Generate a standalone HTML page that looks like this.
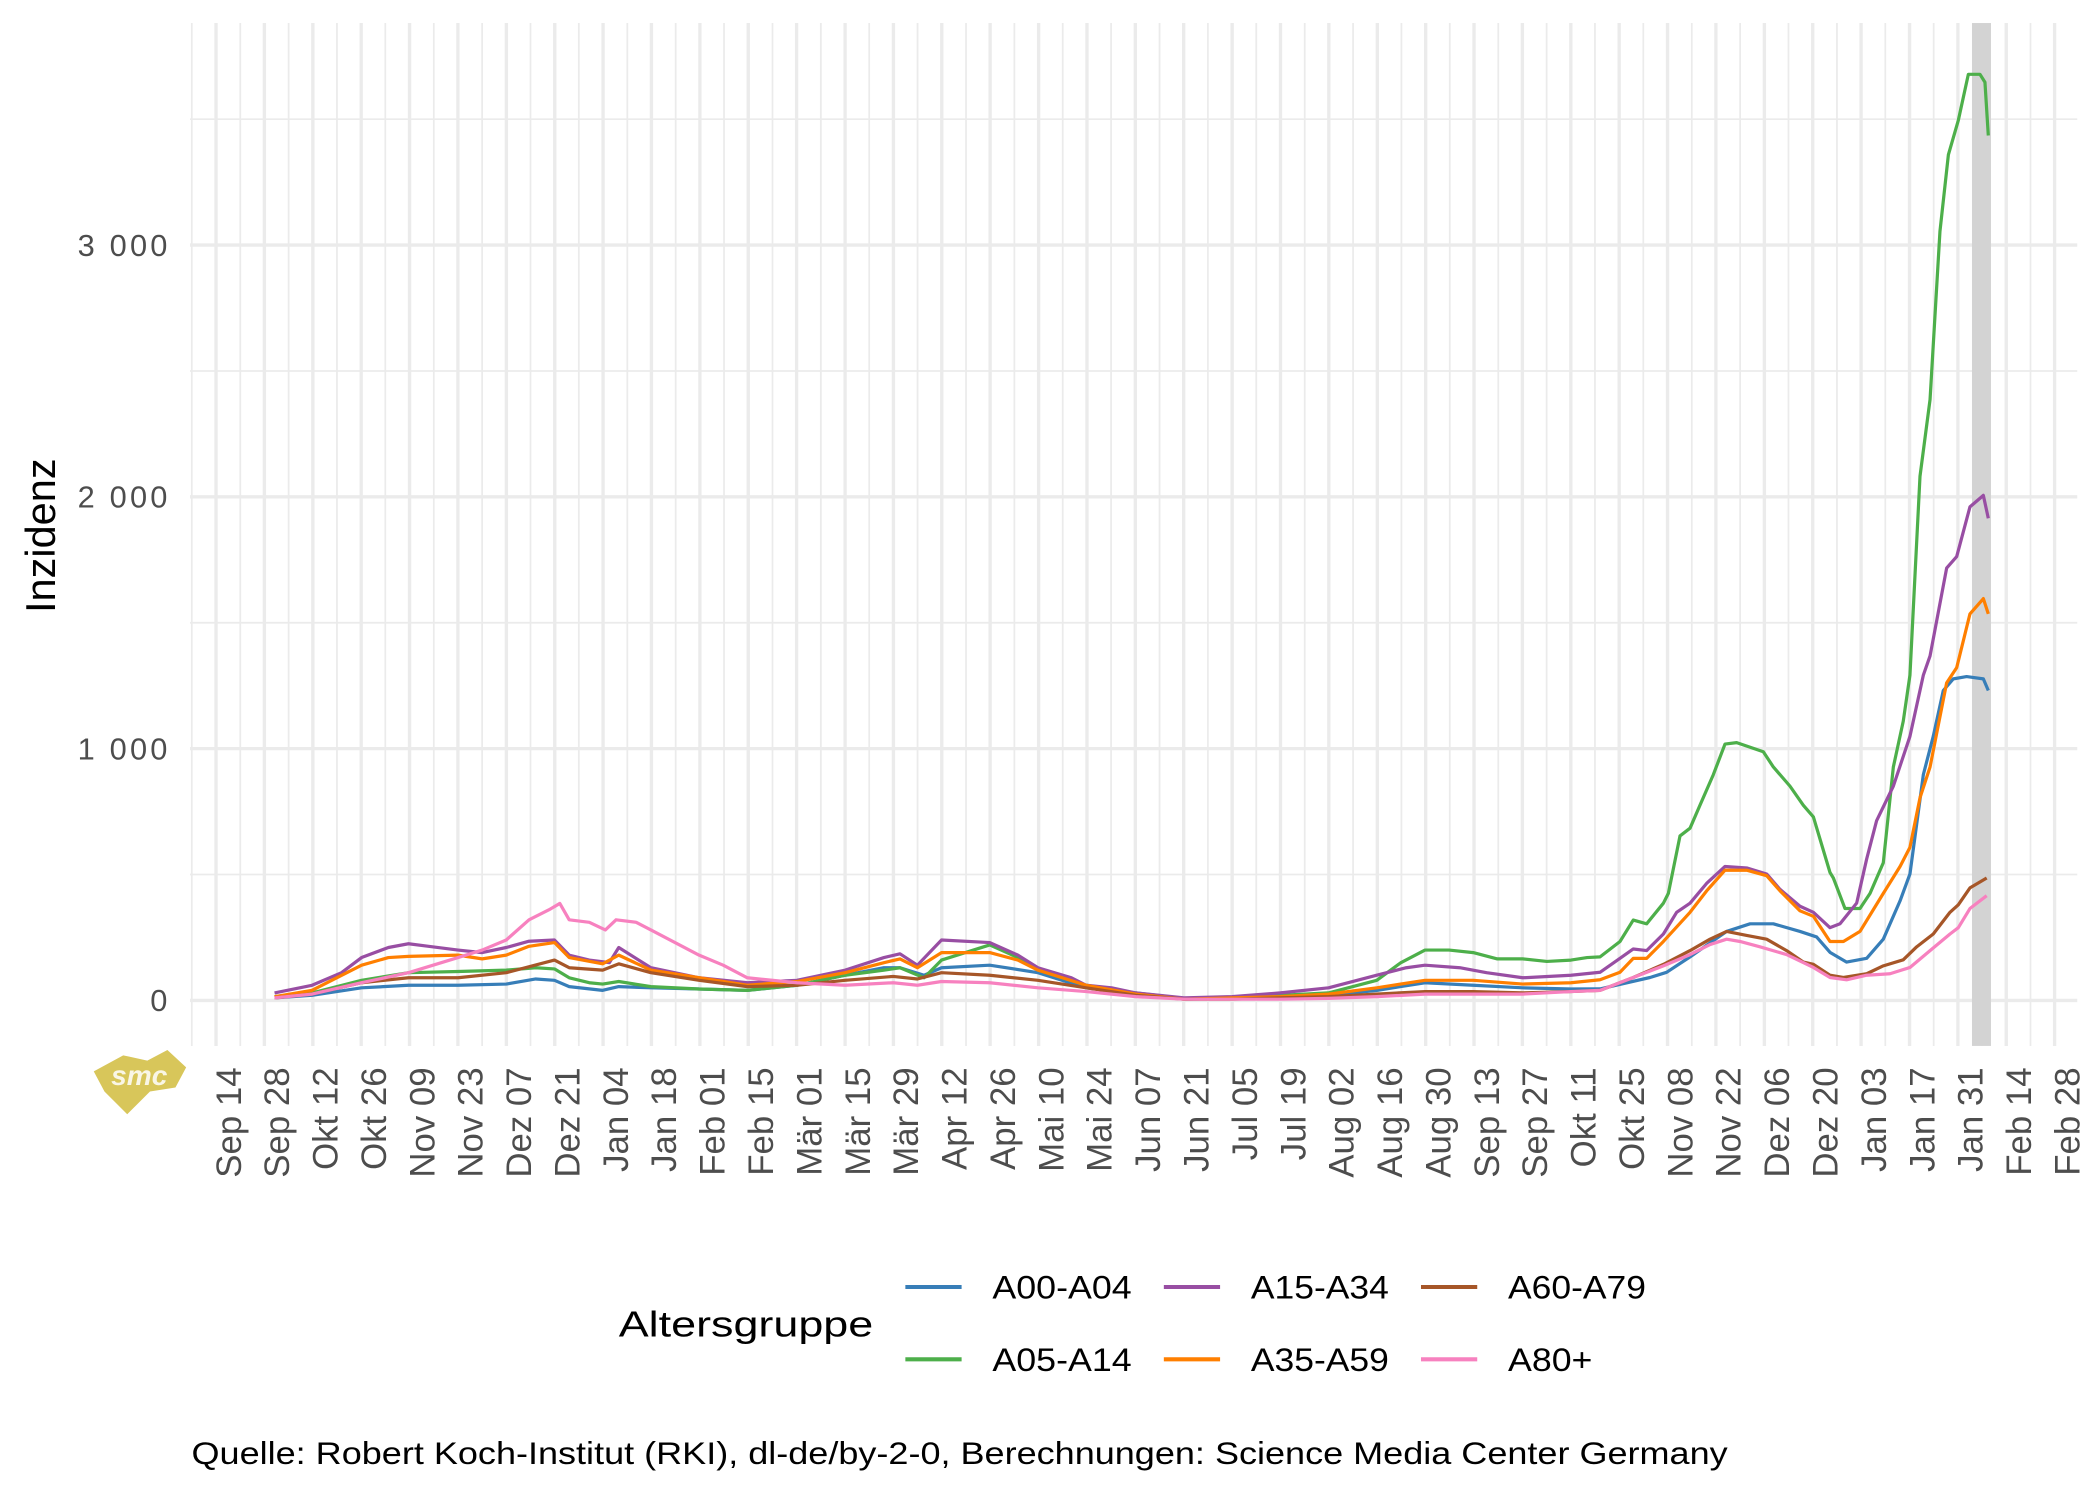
<!DOCTYPE html>
<html><head><meta charset="utf-8"><style>html,body{margin:0;padding:0;background:#fff}svg{display:block}</style></head>
<body>
<svg width="2100" height="1499" viewBox="0 0 1568 1119.3" preserveAspectRatio="none" xmlns="http://www.w3.org/2000/svg" font-family="'Liberation Sans', Arial, sans-serif">
<rect x="0" y="0" width="1568" height="1119.3" fill="#fff"/>
<g stroke="#ebebeb" stroke-width="1.3">
<line x1="141.9" x2="1551" y1="653" y2="653"/><line x1="141.9" x2="1551" y1="465" y2="465"/><line x1="141.9" x2="1551" y1="277" y2="277"/><line x1="141.9" x2="1551" y1="89" y2="89"/>
<line x1="143.2" x2="143.2" y1="17.2" y2="781"/><line x1="179.4" x2="179.4" y1="17.2" y2="781"/><line x1="215.5" x2="215.5" y1="17.2" y2="781"/><line x1="251.6" x2="251.6" y1="17.2" y2="781"/><line x1="287.7" x2="287.7" y1="17.2" y2="781"/><line x1="323.9" x2="323.9" y1="17.2" y2="781"/><line x1="360" x2="360" y1="17.2" y2="781"/><line x1="396.1" x2="396.1" y1="17.2" y2="781"/><line x1="432.2" x2="432.2" y1="17.2" y2="781"/><line x1="468.4" x2="468.4" y1="17.2" y2="781"/><line x1="504.5" x2="504.5" y1="17.2" y2="781"/><line x1="540.6" x2="540.6" y1="17.2" y2="781"/><line x1="576.8" x2="576.8" y1="17.2" y2="781"/><line x1="612.9" x2="612.9" y1="17.2" y2="781"/><line x1="649" x2="649" y1="17.2" y2="781"/><line x1="685.1" x2="685.1" y1="17.2" y2="781"/><line x1="721.3" x2="721.3" y1="17.2" y2="781"/><line x1="757.4" x2="757.4" y1="17.2" y2="781"/><line x1="793.5" x2="793.5" y1="17.2" y2="781"/><line x1="829.6" x2="829.6" y1="17.2" y2="781"/><line x1="865.8" x2="865.8" y1="17.2" y2="781"/><line x1="901.9" x2="901.9" y1="17.2" y2="781"/><line x1="938" x2="938" y1="17.2" y2="781"/><line x1="974.2" x2="974.2" y1="17.2" y2="781"/><line x1="1010.3" x2="1010.3" y1="17.2" y2="781"/><line x1="1046.4" x2="1046.4" y1="17.2" y2="781"/><line x1="1082.5" x2="1082.5" y1="17.2" y2="781"/><line x1="1118.7" x2="1118.7" y1="17.2" y2="781"/><line x1="1154.8" x2="1154.8" y1="17.2" y2="781"/><line x1="1190.9" x2="1190.9" y1="17.2" y2="781"/><line x1="1227" x2="1227" y1="17.2" y2="781"/><line x1="1263.2" x2="1263.2" y1="17.2" y2="781"/><line x1="1299.3" x2="1299.3" y1="17.2" y2="781"/><line x1="1335.4" x2="1335.4" y1="17.2" y2="781"/><line x1="1371.6" x2="1371.6" y1="17.2" y2="781"/><line x1="1407.7" x2="1407.7" y1="17.2" y2="781"/><line x1="1443.8" x2="1443.8" y1="17.2" y2="781"/><line x1="1479.9" x2="1479.9" y1="17.2" y2="781"/><line x1="1516.1" x2="1516.1" y1="17.2" y2="781"/>
</g>
<g stroke="#ebebeb" stroke-width="2.5">
<line x1="141.9" x2="1551" y1="747" y2="747"/><line x1="141.9" x2="1551" y1="559" y2="559"/><line x1="141.9" x2="1551" y1="371" y2="371"/><line x1="141.9" x2="1551" y1="183" y2="183"/>
<line x1="161.3" x2="161.3" y1="17.2" y2="781"/><line x1="197.4" x2="197.4" y1="17.2" y2="781"/><line x1="233.6" x2="233.6" y1="17.2" y2="781"/><line x1="269.7" x2="269.7" y1="17.2" y2="781"/><line x1="305.8" x2="305.8" y1="17.2" y2="781"/><line x1="341.9" x2="341.9" y1="17.2" y2="781"/><line x1="378.1" x2="378.1" y1="17.2" y2="781"/><line x1="414.2" x2="414.2" y1="17.2" y2="781"/><line x1="450.3" x2="450.3" y1="17.2" y2="781"/><line x1="486.4" x2="486.4" y1="17.2" y2="781"/><line x1="522.6" x2="522.6" y1="17.2" y2="781"/><line x1="558.7" x2="558.7" y1="17.2" y2="781"/><line x1="594.8" x2="594.8" y1="17.2" y2="781"/><line x1="631" x2="631" y1="17.2" y2="781"/><line x1="667.1" x2="667.1" y1="17.2" y2="781"/><line x1="703.2" x2="703.2" y1="17.2" y2="781"/><line x1="739.3" x2="739.3" y1="17.2" y2="781"/><line x1="775.5" x2="775.5" y1="17.2" y2="781"/><line x1="811.6" x2="811.6" y1="17.2" y2="781"/><line x1="847.7" x2="847.7" y1="17.2" y2="781"/><line x1="883.8" x2="883.8" y1="17.2" y2="781"/><line x1="920" x2="920" y1="17.2" y2="781"/><line x1="956.1" x2="956.1" y1="17.2" y2="781"/><line x1="992.2" x2="992.2" y1="17.2" y2="781"/><line x1="1028.4" x2="1028.4" y1="17.2" y2="781"/><line x1="1064.5" x2="1064.5" y1="17.2" y2="781"/><line x1="1100.6" x2="1100.6" y1="17.2" y2="781"/><line x1="1136.7" x2="1136.7" y1="17.2" y2="781"/><line x1="1172.9" x2="1172.9" y1="17.2" y2="781"/><line x1="1209" x2="1209" y1="17.2" y2="781"/><line x1="1245.1" x2="1245.1" y1="17.2" y2="781"/><line x1="1281.2" x2="1281.2" y1="17.2" y2="781"/><line x1="1317.4" x2="1317.4" y1="17.2" y2="781"/><line x1="1353.5" x2="1353.5" y1="17.2" y2="781"/><line x1="1389.6" x2="1389.6" y1="17.2" y2="781"/><line x1="1425.8" x2="1425.8" y1="17.2" y2="781"/><line x1="1461.9" x2="1461.9" y1="17.2" y2="781"/><line x1="1498" x2="1498" y1="17.2" y2="781"/><line x1="1534.1" x2="1534.1" y1="17.2" y2="781"/>
</g>
<rect x="1472.4" y="17.2" width="14.2" height="763.8" fill="#d3d3d3"/>
<g fill="none" stroke-width="2.4" stroke-linejoin="round" stroke-linecap="butt">
<polyline stroke="#377eb8" points="205,745.1 233,743.2 270,737.6 305,735.7 342,735.7 378,734.8 400,731 414,732 425,736.7 450,739.5 462,736.7 486,737.6 522,738.5 558,739.5 595,735.7 631,728.2 660,722.6 672,722.6 690,728.2 703,722.6 739,720.7 775,726.3 811,737.6 848,742.3 884,746.1 920,745.5 956,744.2 992,743.2 1028,739.5 1064,733.8 1100,735.7 1137,737.6 1173,738.5 1194.7,738.4 1232,729.9 1244.4,726 1261.9,714.5 1276.8,704.1 1289.2,695.5 1306.7,689.8 1324.1,689.8 1344,695.5 1356.4,699.6 1366.4,711.1 1378.8,718.4 1393.8,715.6 1406.2,701.3 1418.7,672.7 1426.1,652.6 1436.1,578.4 1443.5,549.8 1451,515.6 1458.5,506.9 1468.4,505.2 1480.9,506.9 1484.6,515.6"/>
<polyline stroke="#4daf4a" points="205,744.2 233,741.4 270,732 305,726.3 342,725.4 378,724.4 400,722.6 414,723.5 425,730.1 440,733.8 450,734.8 462,732.9 486,736.7 522,738.5 558,739.5 595,735.7 631,728.2 660,724.4 672,722.6 690,730.1 703,716.9 739,705.6 760,715 775,724.4 811,735.7 848,741.4 884,745.5 920,745.1 956,743.2 992,741.4 1028,732 1046,718.8 1064,709.4 1082,709.4 1100,711.3 1118,716 1137,716 1155,717.9 1173,716.9 1185,715 1194.7,714.5 1209.6,703 1219.5,687 1229.5,689.8 1242,674.4 1245.7,667.1 1254.4,624.2 1261.9,618.4 1269.3,601.3 1279.3,578.4 1288,555.6 1296.7,554.5 1316.6,561.3 1324.1,572.7 1336.5,587 1346.5,601.3 1354,610 1366.4,651.5 1368.9,655.6 1377.6,678.4 1388.8,678.4 1396.3,667.1 1406.2,644.2 1413.7,572.7 1421.1,538.5 1426.1,504.1 1433.6,355.6 1441.1,298.4 1448.5,172.7 1454.8,115.5 1462.2,89.9 1469.7,55.5 1478.4,55.5 1482.1,61.4 1484.6,101.2"/>
<polyline stroke="#984ea3" points="205,741.4 233,735.7 255,726.3 270,715 290,707.5 305,704.7 320,706.6 342,709.4 360,711.3 378,707.5 395,702.8 414,701.9 425,713.2 440,716.9 455,718.8 462,707.5 486,722.6 522,730.1 558,733.8 595,732 631,724.4 660,715 672,712.2 685,720.7 703,701.9 739,703.8 760,713.2 775,722.6 800,730.1 811,735.7 830,737.6 848,741.4 884,745.1 920,744.2 956,741.4 992,737.6 1028,728.2 1050,722.6 1064,720.7 1090,722.6 1110,726.3 1137,730.1 1173,728.2 1194.7,726 1209.6,715.6 1219.5,708.6 1229.5,709.8 1242,697.4 1251.9,681.2 1261.9,674.4 1274.3,659.6 1288,647 1304.2,648.1 1319.1,652.6 1329.1,664.1 1344,676.7 1354,681.2 1366.4,692.7 1373.9,689.8 1386.3,674.4 1393.8,641.3 1401.2,612.8 1413.7,587 1426.1,549.8 1436.1,504.1 1441.1,489.8 1453.5,424.2 1461,415.6 1470.9,378.5 1480.9,369.9 1484.6,387"/>
<polyline stroke="#ff7f00" points="205,744.2 233,739.5 270,720.7 290,715 305,714.1 342,713.2 360,716 378,713.2 395,706.6 414,703.8 425,715 450,719.7 462,713.2 486,724.4 522,730.1 558,735.7 595,732.9 631,726.3 660,718.8 672,716 685,722.6 703,711.3 739,711.3 760,716.9 775,724.4 811,735.7 848,742.3 884,746.1 920,745.1 956,744.2 992,742.3 1028,737.6 1064,732 1100,732 1137,734.8 1173,733.8 1194.7,731.6 1209.6,726 1219.5,715.6 1229.5,715.6 1242,703 1261.9,681.2 1274.3,665.2 1288,649.8 1304.2,649.8 1319.1,653.9 1329.1,665.2 1344,680.1 1354,684.2 1366.4,703 1376.4,703 1388.8,695.5 1406.2,667.1 1418.7,647 1426.1,632.7 1433.6,595.7 1441.1,572.7 1453.5,509.9 1461,498.5 1470.9,458.4 1480.9,447 1484.6,458.4"/>
<polyline stroke="#a65628" points="205,745.1 233,742.3 270,733.8 305,730.1 342,730.1 378,726.3 414,716.9 425,722.6 450,724.4 462,719.7 486,726.3 522,732 558,736.7 595,735.7 631,732 667,729.1 685,731 703,726.3 739,728.2 775,732 811,737.6 848,743.2 884,746.1 920,746.1 956,745.1 992,744.2 1028,742.3 1064,740.4 1100,740.4 1137,741.4 1173,740.4 1194.7,739.5 1219.5,729.9 1242,720.1 1261.9,709.8 1276.8,701.3 1289.2,695.5 1304.2,698.5 1319.1,701.3 1334,709.8 1346.5,718.4 1354,720.1 1366.4,728.2 1376.4,729.9 1393.8,727.1 1406.2,721.2 1421.1,716.7 1431.1,707 1443.5,697.4 1456,681.2 1462.2,675.6 1470.9,663 1483.4,655.6"/>
<polyline stroke="#f781bf" points="205,745.1 233,742.3 270,733.8 305,726.3 342,715 360,709.4 378,701.9 395,686.8 410,679.3 418,674.6 425,686.8 440,688.7 452,694.4 460,686.8 475,688.7 486,694.4 522,713.2 540,720.7 558,730.1 595,733.8 631,735.7 667,733.8 685,735.7 703,732.9 739,733.8 775,737.6 811,740.4 848,744.2 884,746.1 956,746.1 992,745.5 1028,744.2 1064,742.3 1100,742.3 1137,742.3 1173,740.4 1194.7,739.5 1219.5,729.9 1242,721.2 1261.9,712.8 1276.8,705.3 1289.2,701.3 1299.2,703 1314.1,707 1334,712.8 1354,722.4 1366.4,729.9 1378.8,731.6 1393.8,728.2 1411.2,727.1 1426.1,722.4 1441.1,709.8 1456,697.4 1462.2,692.7 1470.9,678.4 1483.4,668.8"/>
</g>
<g fill="#4d4d4d" font-size="23" text-anchor="end">
<text x="125" y="755">0</text>
<text x="125" y="567" textLength="67" lengthAdjust="spacing">1 000</text>
<text x="125" y="379" textLength="67" lengthAdjust="spacing">2 000</text>
<text x="125" y="191" textLength="67" lengthAdjust="spacing">3 000</text>
</g>
<text transform="translate(41,400) rotate(-90)" font-size="31" text-anchor="middle" fill="#000">Inzidenz</text>
<g fill="#4d4d4d" font-size="26" text-anchor="end">
<text transform="translate(179.8,797) rotate(-90)">Sep 14</text>
<text transform="translate(215.9,797) rotate(-90)">Sep 28</text>
<text transform="translate(252.1,797) rotate(-90)">Okt 12</text>
<text transform="translate(288.2,797) rotate(-90)">Okt 26</text>
<text transform="translate(324.3,797) rotate(-90)">Nov 09</text>
<text transform="translate(360.4,797) rotate(-90)">Nov 23</text>
<text transform="translate(396.6,797) rotate(-90)">Dez 07</text>
<text transform="translate(432.7,797) rotate(-90)">Dez 21</text>
<text transform="translate(468.8,797) rotate(-90)">Jan 04</text>
<text transform="translate(504.9,797) rotate(-90)">Jan 18</text>
<text transform="translate(541.1,797) rotate(-90)">Feb 01</text>
<text transform="translate(577.2,797) rotate(-90)">Feb 15</text>
<text transform="translate(613.3,797) rotate(-90)">Mär 01</text>
<text transform="translate(649.5,797) rotate(-90)">Mär 15</text>
<text transform="translate(685.6,797) rotate(-90)">Mär 29</text>
<text transform="translate(721.7,797) rotate(-90)">Apr 12</text>
<text transform="translate(757.8,797) rotate(-90)">Apr 26</text>
<text transform="translate(794,797) rotate(-90)">Mai 10</text>
<text transform="translate(830.1,797) rotate(-90)">Mai 24</text>
<text transform="translate(866.2,797) rotate(-90)">Jun 07</text>
<text transform="translate(902.3,797) rotate(-90)">Jun 21</text>
<text transform="translate(938.5,797) rotate(-90)">Jul 05</text>
<text transform="translate(974.6,797) rotate(-90)">Jul 19</text>
<text transform="translate(1010.7,797) rotate(-90)">Aug 02</text>
<text transform="translate(1046.9,797) rotate(-90)">Aug 16</text>
<text transform="translate(1083,797) rotate(-90)">Aug 30</text>
<text transform="translate(1119.1,797) rotate(-90)">Sep 13</text>
<text transform="translate(1155.2,797) rotate(-90)">Sep 27</text>
<text transform="translate(1191.4,797) rotate(-90)">Okt 11</text>
<text transform="translate(1227.5,797) rotate(-90)">Okt 25</text>
<text transform="translate(1263.6,797) rotate(-90)">Nov 08</text>
<text transform="translate(1299.7,797) rotate(-90)">Nov 22</text>
<text transform="translate(1335.9,797) rotate(-90)">Dez 06</text>
<text transform="translate(1372,797) rotate(-90)">Dez 20</text>
<text transform="translate(1408.1,797) rotate(-90)">Jan 03</text>
<text transform="translate(1444.3,797) rotate(-90)">Jan 17</text>
<text transform="translate(1480.4,797) rotate(-90)">Jan 31</text>
<text transform="translate(1516.5,797) rotate(-90)">Feb 14</text>
<text transform="translate(1552.6,797) rotate(-90)">Feb 28</text>
</g>
<polygon points="70,800 92,788 110,792 125,784 139,797 131,812 112,815 95,832 78,815" fill="#d8c65a"/>
<text x="104" y="810" font-size="21" font-weight="bold" font-style="italic" fill="#fff" text-anchor="middle" opacity="0.85">smc</text>
<text x="462" y="998" font-size="27" fill="#000" textLength="190" lengthAdjust="spacingAndGlyphs">Altersgruppe</text>
<g stroke-width="3">
<line x1="676" x2="718" y1="961" y2="961" stroke="#377eb8"/>
<line x1="869" x2="911" y1="961" y2="961" stroke="#984ea3"/>
<line x1="1061" x2="1103" y1="961" y2="961" stroke="#a65628"/>
<line x1="676" x2="718" y1="1015" y2="1015" stroke="#4daf4a"/>
<line x1="869" x2="911" y1="1015" y2="1015" stroke="#ff7f00"/>
<line x1="1061" x2="1103" y1="1015" y2="1015" stroke="#f781bf"/>
</g>
<g font-size="24" fill="#000">
<text x="741" y="969.6" textLength="104" lengthAdjust="spacingAndGlyphs">A00-A04</text>
<text x="934" y="969.6" textLength="103" lengthAdjust="spacingAndGlyphs">A15-A34</text>
<text x="1126" y="969.6" textLength="103" lengthAdjust="spacingAndGlyphs">A60-A79</text>
<text x="741" y="1023.6" textLength="104" lengthAdjust="spacingAndGlyphs">A05-A14</text>
<text x="934" y="1023.6" textLength="103" lengthAdjust="spacingAndGlyphs">A35-A59</text>
<text x="1126" y="1023.6" textLength="63" lengthAdjust="spacingAndGlyphs">A80+</text>
</g>
<text x="143" y="1093" font-size="23.5" fill="#000" textLength="1147" lengthAdjust="spacingAndGlyphs">Quelle: Robert Koch-Institut (RKI), dl-de/by-2-0, Berechnungen: Science Media Center Germany</text>
</svg>
</body></html>
